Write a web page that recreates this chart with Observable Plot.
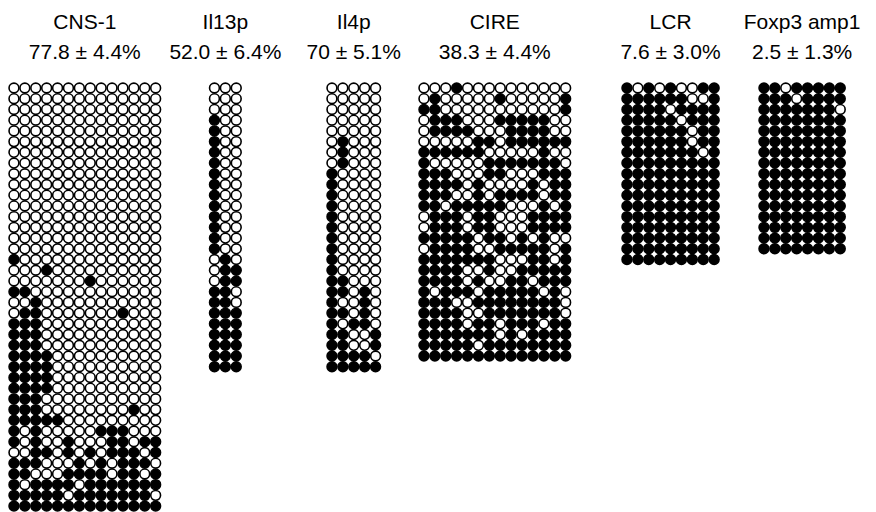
<!DOCTYPE html>
<html><head><meta charset="utf-8">
<script src="https://cdn.jsdelivr.net/npm/d3@7"></script>
<script src="https://cdn.jsdelivr.net/npm/@observablehq/plot@0.6"></script>
<style>body{margin:0;background:#fff}</style>
</head><body><div id="chart"></div>
<script>
const regions = ["CNS-1", "Il13p", "Il4p", "CIRE", "LCR", "Foxp3 amp1"];
const stats = ["77.8 ± 4.4%", "52.0 ± 6.4%", "70 ± 5.1%", "38.3 ± 4.4%", "7.6 ± 3.0%", "2.5 ± 1.3%"];
// 1 = methylated (filled), 0 = unmethylated (open)
const cns1 = [
"00000000000000","00000000000000","00000000000000","00000000000000",
"00000000000000","00000000000000","00000000000000","00000000000000",
"00000000000000","00000000000000","00000000000000","00000000000000",
"00000000000000","00000000000000","00000000000000","00000000000000",
"10000000000000","00010000000000","00000001000000","11000000000000",
"00100000000000","01100000001000","11100000000000","11100000000000",
"11100000000000","11110000000000","11110000000000","11110000000000",
"11110000000000","11100000000000","11100000000100","11111000000000",
"10100000111000","10100100011011","00110101011101","11100010101110",
"11000111101101","10111101111111","11111011111110","11111111111111"];
const il13p = [
"000","000","000","100","100","100","100","100","100","100","100","100","100","100","100","100",
"010","011","011","110","110","111","111","111","111","111","111"];
const il4p = [
"00000","00000","00000","00000","00000","01000","01000","01000",
"10000","10000","10000","10000","10000","10000","10000","10000","10000","10000",
"11000","11010","10010","11010","10110","11001","11001","11110","11111"];
const cire = [
"00010000000000","01000001000001","11000000000001","01110001111100",
"01111000111100","00000110111111","11111100000100","10000011111110",
"11100011000111","11110100001011","11100101111011","11011111000101",
"01110110001111","01110110001111","11111011010100","01111001111101",
"11111110001101","11110010011111","11110100110111","10111011111010",
"11100111111110","11110011111110","11110110111011","11111110101111",
"11111011111111","11111111111111"];
const lcr = [
"101010011","111111001","111101111","111110111","111111011","111111011","111111101",
"111111111","111111111","111111111","111111111","111111111","111111111","111111111",
"111111111","111111111","111111111"];
const foxp3 = [
"11011111","11101111","11111110","11111111","11111111","11111111","11111111","11111111",
"11111111","11111111","11111111","11111111","11111111","11111111","11111111","11111111"];

const patterns = [cns1, il13p, il4p, cire, lcr, foxp3];

// layout
const W = 876, H = 512, PX = 10.9, PY = 10.72, TOP = 87.5;
const startPx = [8, 208.5, 326, 418, 621, 758];

const cells = [];
patterns.forEach((rows, p) => rows.forEach((s, r) => [...s].forEach((ch, c) =>
  cells.push({panel: p, x: startPx[p] / PX + c + 0.5, y: r, m: ch === "1"}))));
const labels = regions.map((name, p) => ({
  name, stat: stats[p], x: startPx[p] / PX + patterns[p][0].length / 2
}));

const chart = Plot.plot({
  width: W, height: H, margin: 0,
  style: {background: "#fff"},
  x: {domain: [0, W / PX], range: [0, W], axis: null},
  y: {domain: [-TOP / PY, (H - TOP) / PY], range: [0, H], axis: null},
  color: {type: "identity"},
  marks: [
    Plot.dot(cells, {x: "x", y: "y", r: 4.9, fill: d => d.m ? "#000" : "#fff", stroke: "#000", strokeWidth: 1.6}),
    Plot.text(labels, {x: "x", y: (28 - TOP) / PY, text: "name", fontSize: 21, fontFamily: "Liberation Sans, Arial, sans-serif", lineAnchor: "bottom", fill: "#000"}),
    Plot.text(labels, {x: "x", y: (58 - TOP) / PY, text: "stat", fontSize: 21, fontFamily: "Liberation Sans, Arial, sans-serif", lineAnchor: "bottom", fill: "#000"})
  ]
});
document.getElementById("chart").appendChild(chart);
</script>
</body></html>
